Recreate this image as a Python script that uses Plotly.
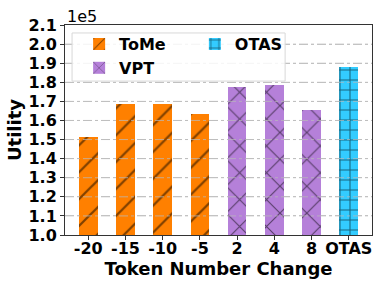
import plotly.graph_objects as go

categories = ["-20", "-15", "-10", "-5", "2", "4", "8", "OTAS"]
tome_x = ["-20", "-15", "-10", "-5"]
tome_y = [151300, 168600, 168600, 163400]
vpt_x = ["2", "4", "8"]
vpt_y = [177400, 178600, 165300]
otas_x = ["OTAS"]
otas_y = [187800]
ytick_vals = [100000, 110000, 120000, 130000, 140000, 150000, 160000, 170000, 180000, 190000, 200000, 210000]
ytick_text = ["1.0", "1.1", "1.2", "1.3", "1.4", "1.5", "1.6", "1.7", "1.8", "1.9", "2.0", "2.1"]

FONT = "DejaVu Sans"

fig = go.Figure()
fig.add_trace(go.Bar(
    x=tome_x, y=tome_y, name="ToMe", width=0.5, legend="legend",
    marker=dict(color="#ff8000", line=dict(width=0),
                pattern=dict(shape="/", size=19, solidity=0.12, fgcolor="black", bgcolor="#ff8000")),
))
fig.add_trace(go.Bar(
    x=vpt_x, y=vpt_y, name="VPT", width=0.5, legend="legend",
    marker=dict(color="#b580d9", line=dict(width=0),
                pattern=dict(shape="x", size=19, solidity=0.12, fgcolor="black", bgcolor="#b580d9")),
))
fig.add_trace(go.Bar(
    x=otas_x, y=otas_y, name="OTAS", width=0.5, legend="legend2",
    marker=dict(color="#33ccff", line=dict(width=0),
                pattern=dict(shape="+", size=10, solidity=0.2, fgcolor="black", bgcolor="#33ccff")),
))

# grid lines drawn above bars (as in the reference)
grid_shapes = [dict(type="line", xref="paper", yref="y", x0=0, x1=1, y0=v, y1=v, layer="above",
                    line=dict(color="rgba(185,185,185,0.75)", width=1, dash="dashdot"))
               for v in ytick_vals[1:-1]]
legend_box = dict(type="rect", xref="paper", yref="paper", x0=0.023, x1=0.717, y0=0.733, y1=0.962,
                  line=dict(color="#d8d8d8", width=1), fillcolor="rgba(255,255,255,0.85)", layer="above")

fig.update_layout(
    width=382, height=287,
    margin=dict(l=65, r=10, t=25, b=52),
    paper_bgcolor="white", plot_bgcolor="white",
    font=dict(family=FONT, color="black"),
    bargap=0,
    legend=dict(x=0.046, y=0.99, xanchor="left", yanchor="top", bgcolor="rgba(0,0,0,0)",
                font=dict(family=FONT, size=16, weight="bold"), tracegroupgap=0),
    legend2=dict(x=0.423, y=0.99, xanchor="left", yanchor="top", bgcolor="rgba(0,0,0,0)",
                 font=dict(family=FONT, size=16, weight="bold")),
    shapes=grid_shapes + [legend_box],
    annotations=[dict(text="1e5", xref="paper", yref="paper", x=0, y=1, xanchor="left", yanchor="bottom",
                      showarrow=False, font=dict(family=FONT, size=16), yshift=-3)],
)
fig.update_xaxes(
    type="category", categoryorder="array", categoryarray=categories,
    range=[-0.625, 7.625],
    showline=True, linecolor="#333333", linewidth=1, mirror=True,
    ticks="outside", ticklen=4, tickcolor="#333333",
    tickfont=dict(family=FONT, size=16, weight="bold"), ticklabelstandoff=-5,
    title=dict(text="Token Number Change", font=dict(family=FONT, size=18, weight="bold"), standoff=1),
    showgrid=False,
)
fig.update_yaxes(
    range=[100000, 210000], tickvals=ytick_vals, ticktext=ytick_text,
    showline=True, linecolor="#333333", linewidth=1, mirror=True,
    ticks="outside", ticklen=4, tickcolor="#333333",
    tickfont=dict(family=FONT, size=16, weight="bold"),
    title=dict(text="Utility", font=dict(family=FONT, size=18, weight="bold"), standoff=2),
    showgrid=True, gridcolor="#cccccc", griddash="dashdot", gridwidth=1,
    zeroline=False,
)

fig.write_html("out.html", config={"displayModeBar": False},
               post_script="document.body.style.margin='0';")
